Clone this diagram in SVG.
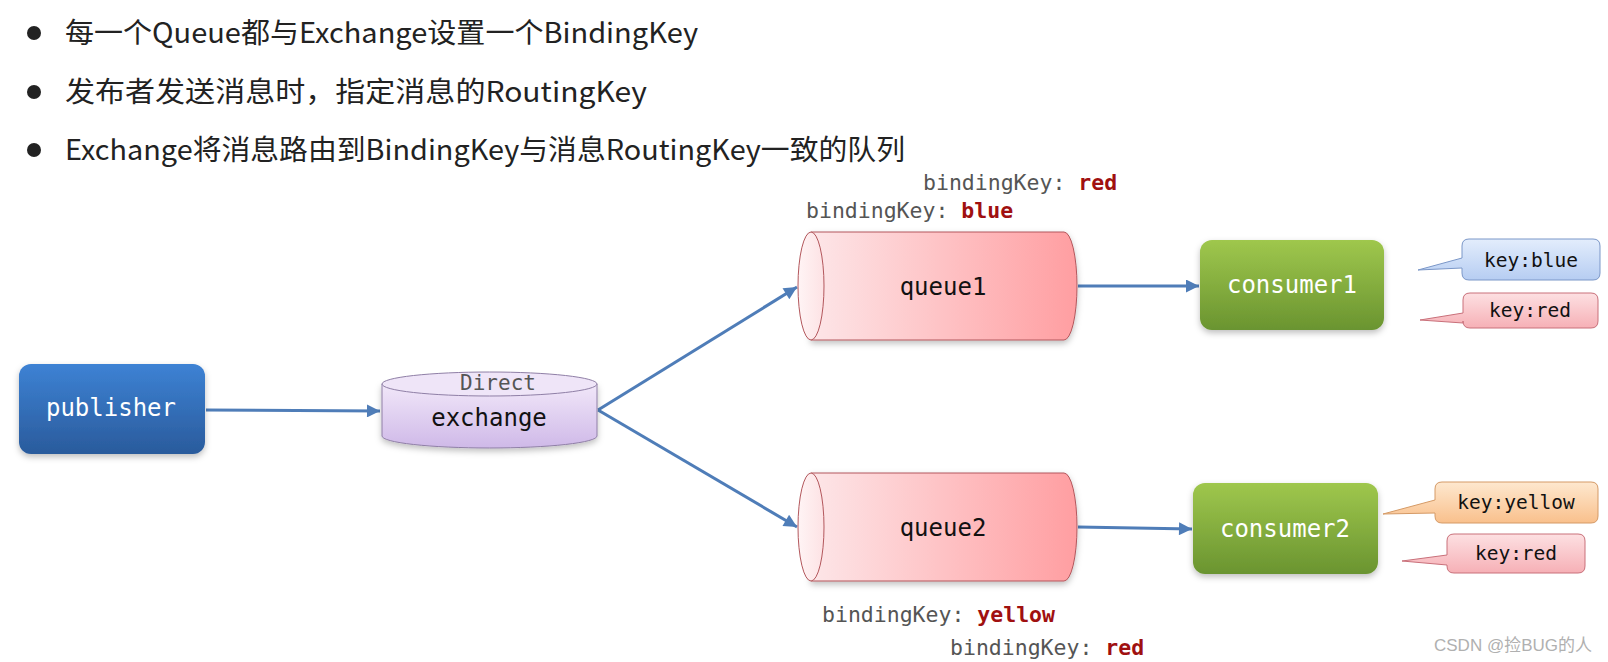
<svg xmlns="http://www.w3.org/2000/svg" width="1608" height="662" viewBox="0 0 1608 662">
<style>
.bul{font-family:"Noto Sans CJK SC","Noto Sans",sans-serif;font-size:28px;fill:#222}
.mono{font-family:"DejaVu Sans Mono","Liberation Mono",monospace}
.lbl{font-size:24px;text-anchor:middle;dominant-baseline:central}
.wt{fill:#ffffff}
.bk{fill:#111}
.bkey{font-size:21.5px;fill:#555}
.val{font-weight:bold;fill:#a01010}
.call{font-size:19.5px;text-anchor:middle;dominant-baseline:central;fill:#111}
.conn{stroke:#4f7db8;stroke-width:3;fill:none;marker-end:url(#arr)}
</style>
<defs>
<marker id="arr" viewBox="0 0 10 10" refX="10" refY="5" markerWidth="15" markerHeight="13" markerUnits="userSpaceOnUse" orient="auto">
<path d="M0,0 L10,5 L0,10 z" fill="#4f7db8"/>
</marker>
<linearGradient id="gPub" x1="0" y1="0" x2="0" y2="1"><stop offset="0" stop-color="#3d82d4"/><stop offset="1" stop-color="#2a5b9c"/></linearGradient>
<linearGradient id="gCon" x1="0" y1="0" x2="0" y2="1"><stop offset="0" stop-color="#9fc74d"/><stop offset="1" stop-color="#6a9430"/></linearGradient>
<linearGradient id="gEx" x1="0" y1="0" x2="0" y2="1"><stop offset="0" stop-color="#f1e7f9"/><stop offset="1" stop-color="#cfb9e8"/></linearGradient>
<linearGradient id="gQ" x1="0" y1="0" x2="1" y2="0"><stop offset="0" stop-color="#fde6e8"/><stop offset="1" stop-color="#ff9ea1"/></linearGradient>
<linearGradient id="gQL" x1="0" y1="0" x2="1" y2="0"><stop offset="0" stop-color="#fff4f5"/><stop offset="1" stop-color="#fde2e4"/></linearGradient>
<linearGradient id="gBlue" x1="0" y1="0" x2="0" y2="1"><stop offset="0" stop-color="#e3edfc"/><stop offset="1" stop-color="#b6cdf2"/></linearGradient>
<linearGradient id="gRed" x1="0" y1="0" x2="0" y2="1"><stop offset="0" stop-color="#fde0e2"/><stop offset="1" stop-color="#f6b0b6"/></linearGradient>
<linearGradient id="gYel" x1="0" y1="0" x2="0" y2="1"><stop offset="0" stop-color="#fee8cf"/><stop offset="1" stop-color="#f9c08c"/></linearGradient>
<filter id="sh" x="-10%" y="-10%" width="120%" height="130%"><feDropShadow dx="0" dy="3" stdDeviation="3" flood-color="#000" flood-opacity="0.25"/></filter>
</defs>

<g id="bullets">
<circle cx="34" cy="33" r="7" fill="#222"/>
<text class="bul" x="65" y="43" textLength="633" lengthAdjust="spacingAndGlyphs">每一个Queue都与Exchange设置一个BindingKey</text>
<circle cx="34" cy="92" r="7" fill="#222"/>
<text class="bul" x="65" y="102" textLength="582" lengthAdjust="spacingAndGlyphs">发布者发送消息时，指定消息的RoutingKey</text>
<circle cx="34" cy="150" r="7" fill="#222"/>
<text class="bul" x="65" y="160" textLength="840" lengthAdjust="spacingAndGlyphs">Exchange将消息路由到BindingKey与消息RoutingKey一致的队列</text>
</g>

<g id="connectors">
<line class="conn" x1="206" y1="410" x2="380" y2="411"/>
<line class="conn" x1="598" y1="410" x2="797" y2="287"/>
<line class="conn" x1="598" y1="410" x2="797" y2="527"/>
<line class="conn" x1="1078" y1="286" x2="1199" y2="286"/>
<line class="conn" x1="1078" y1="527" x2="1192" y2="529"/>
</g>

<g id="publisher">
<rect x="19" y="364" width="186" height="90" rx="12" fill="url(#gPub)" filter="url(#sh)"/>
<text class="mono lbl wt" x="111" y="408">publisher</text>
</g>

<g id="exchange">
<path d="M382,384 V436 A107.5,12 0 0 0 597,436 V384 Z" fill="url(#gEx)" stroke="#8f7fa6" stroke-width="1" filter="url(#sh)"/>
<ellipse cx="489.5" cy="384" rx="107.5" ry="12" fill="#efe5f8" stroke="#8f7fa6" stroke-width="1"/>
<text class="mono" x="498" y="383" font-size="21" fill="#555" text-anchor="middle" dominant-baseline="central">Direct</text>
<text class="mono lbl bk" x="489" y="418">exchange</text>
</g>

<g id="queue1">
<path d="M811,232 H1064 A13,54 0 0 1 1064,340 H811 Z" fill="url(#gQ)" stroke="#b3575c" stroke-width="1" filter="url(#sh)"/>
<ellipse cx="811" cy="286" rx="13" ry="54" fill="url(#gQL)" stroke="#b3575c" stroke-width="1"/>
<text class="mono lbl bk" x="943" y="287">queue1</text>
</g>

<g id="queue2">
<path d="M811,473 H1064 A13,54 0 0 1 1064,581 H811 Z" fill="url(#gQ)" stroke="#b3575c" stroke-width="1" filter="url(#sh)"/>
<ellipse cx="811" cy="527" rx="13" ry="54" fill="url(#gQL)" stroke="#b3575c" stroke-width="1"/>
<text class="mono lbl bk" x="943" y="528">queue2</text>
</g>

<g id="consumer1">
<rect x="1200" y="240" width="184" height="90" rx="12" fill="url(#gCon)" filter="url(#sh)"/>
<text class="mono lbl wt" x="1292" y="285">consumer1</text>
</g>

<g id="consumer2">
<rect x="1193" y="483" width="185" height="91" rx="12" fill="url(#gCon)" filter="url(#sh)"/>
<text class="mono lbl wt" x="1285" y="529">consumer2</text>
</g>

<g id="bindingKeys">
<text class="mono bkey" x="923" y="190">bindingKey: <tspan class="val">red</tspan></text>
<text class="mono bkey" x="806" y="218">bindingKey: <tspan class="val">blue</tspan></text>
<text class="mono bkey" x="822" y="622">bindingKey: <tspan class="val">yellow</tspan></text>
<text class="mono bkey" x="950" y="655">bindingKey: <tspan class="val">red</tspan></text>
</g>

<g id="callout-blue">
<path d="M1469,239 H1593 Q1600,239 1600,246 V273 Q1600,280 1593,280 H1469 Q1462,280 1462,273 V268 L1418,270 L1462,258 V246 Q1462,239 1469,239 Z" fill="url(#gBlue)" stroke="#7b97c8" stroke-width="1"/>
<text class="mono call" x="1531" y="260">key:blue</text>
</g>
<g id="callout-red1">
<path d="M1470,293 H1591 Q1598,293 1598,300 V321 Q1598,328 1591,328 H1470 Q1463,328 1463,321 V323 L1420,320 L1463,313 V300 Q1463,293 1470,293 Z" fill="url(#gRed)" stroke="#c9707a" stroke-width="1"/>
<text class="mono call" x="1530" y="310">key:red</text>
</g>
<g id="callout-yellow">
<path d="M1442,482 H1591 Q1598,482 1598,489 V516 Q1598,523 1591,523 H1442 Q1435,523 1435,516 V513 L1383,514 L1435,500 V489 Q1435,482 1442,482 Z" fill="url(#gYel)" stroke="#d59a66" stroke-width="1"/>
<text class="mono call" x="1516" y="502">key:yellow</text>
</g>
<g id="callout-red2">
<path d="M1454,534 H1578 Q1585,534 1585,541 V566 Q1585,573 1578,573 H1454 Q1447,573 1447,566 V565 L1402,561 L1447,555 V541 Q1447,534 1454,534 Z" fill="url(#gRed)" stroke="#c9707a" stroke-width="1"/>
<text class="mono call" x="1516" y="553">key:red</text>
</g>

<text x="1592" y="651" font-family="Liberation Sans,Noto Sans CJK SC,sans-serif" font-size="17" fill="#b0b0b0" text-anchor="end">CSDN @捡BUG的人</text>
</svg>
